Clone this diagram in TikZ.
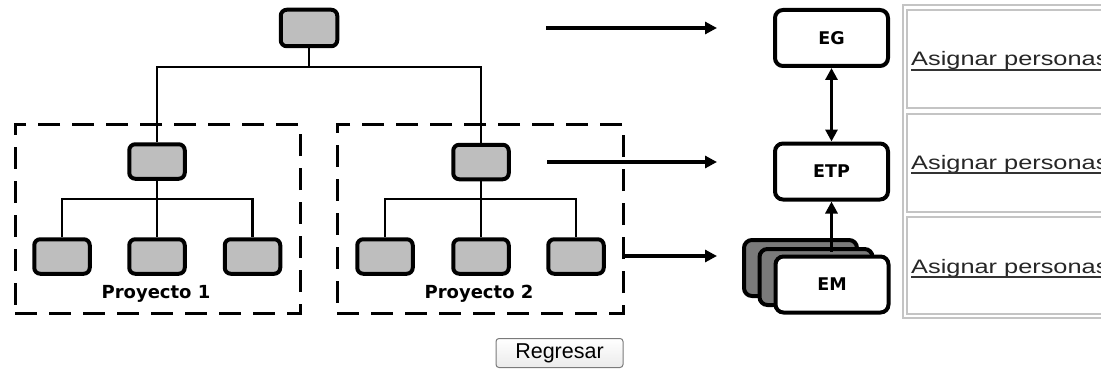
\documentclass[tikz,border=0pt]{standalone}
\usepackage{fontspec}
\newfontfamily\dvs{DejaVu Sans}
\newfontfamily\arialf{Liberation Sans}
\usetikzlibrary{arrows.meta}
\definecolor{boxgray}{HTML}{BEBEBE}
\definecolor{stackgray}{HTML}{7A7A7A}
\definecolor{tblgray}{HTML}{C4C4C4}
\definecolor{btnborder}{HTML}{7A7A7A}
\begin{document}
\begin{tikzpicture}[x=1pt,y=-1pt,
  orgbox/.style={draw, line width=4pt, rounded corners=6pt, fill=boxgray,
    minimum width=55.5pt, minimum height=34.5pt, inner sep=0pt},
  teambox/.style={draw, line width=4pt, rounded corners=8pt, fill=white,
    minimum width=113pt, minimum height=56pt, inner sep=0pt,
    font=\dvs\bfseries\fontsize{17.5}{18}\selectfont},
  stackbox/.style={teambox, fill=stackgray},
  dashbox/.style={draw, line width=3pt, dash pattern=on 22pt off 12pt,
    minimum width=285pt, minimum height=189pt, inner sep=0pt},
  projlabel/.style={anchor=base, inner sep=0pt,
    font=\dvs\bfseries\fontsize{18}{20}\selectfont},
  treeline/.style={line width=2.6pt},
  arr/.style={line width=3.5pt, -{Triangle[length=12pt,width=12pt]}},
  dblarr/.style={line width=3.5pt, {Triangle[length=12pt,width=12pt]}-{Triangle[length=12pt,width=12pt]}},
  tbl/.style={draw=tblgray, line width=1.5pt},
  linktext/.style={anchor=base west, inner sep=0pt, text=black!85,
    font=\arialf\fontsize{19.5}{21}\selectfont},
  uline/.style={draw=black!80, line width=1.3pt},
  btn/.style={draw=btnborder, line width=1pt, rounded corners=3pt,
    top color=white, bottom color=black!8, minimum width=127pt,
    minimum height=29pt, inner sep=0pt, text height=15.5pt, text depth=4.5pt,
    font=\arialf\fontsize{21.5}{24}\selectfont}
]
\useasboundingbox (0,0) rectangle (1101,369);
\clip (0,0) rectangle (1101,369);

% dashed project frames
\node[dashbox] (p1) at (157.5,218.5) {};
\node[dashbox, minimum width=286pt] (p2) at (480,218.5) {};

% org tree
\node[orgbox, minimum width=56.5pt, minimum height=36.5pt] (top) at (309,28) {};
\node[orgbox] (l2a) at (157,161.5) {};
\node[orgbox] (l2b) at (481,162) {};
\node[orgbox] (l3a) at (62,256.5) {};
\node[orgbox] (l3b) at (157,256.5) {};
\node[orgbox] (l3c) at (252.5,256.5) {};
\node[orgbox] (l3d) at (385,256.5) {};
\node[orgbox] (l3e) at (481,256.5) {};
\node[orgbox] (l3f) at (576,256.5) {};

\coordinate (j0) at (309,67);
\coordinate (j1) at (157,199);
\coordinate (j2) at (481,199);
\draw[treeline] (top.south) -- (top.south |- j0);
\draw[treeline] (l2a.north) |- (l2b.north |- j0) -- (l2b.north);
\draw[treeline] (l2a.south) -- (l3b.north);
\draw[treeline] (l3a.north) |- (l3c.north |- j1) -- (l3c.north);
\draw[treeline] (l2b.south) -- (l3e.north);
\draw[treeline] (l3d.north) |- (l3f.north |- j2) -- (l3f.north);

\node[projlabel] (t1) at (156,298.5) {Proyecto 1};
\node[projlabel] (t2) at (479,298.5) {Proyecto 2};

% horizontal arrows
\coordinate (a1s) at (546,28);   \coordinate (a1e) at (717,28);
\coordinate (a2s) at (547,162);  \coordinate (a2e) at (717,162);
\coordinate (a3e) at (717,256);
\draw[arr] (a1s) -- (a1e);
\draw[arr] (a2s) -- (a2e);
\draw[arr] (p2.east |- a3e) -- (a3e);

% team boxes
\node[teambox] (eg) at (831.5,38) {EG};
\node[teambox] (etp) at (831.5,171.5) {ETP};
\node[stackbox] (em3) at (800.5,268) {};
\node[stackbox] (em2) at (816,277) {};
\draw[dblarr] (eg.south) -- (etp.north);
\coordinate (emtop) at (831.5,252);
\draw[line width=3.5pt, {Triangle[length=12pt,width=12pt]}-] (etp.south) -- (emtop);
\node[teambox] (em) at (832,284.5) {EM};

% table
\draw[tbl] (903,5) rectangle (1110,318);
\draw[tbl] (907,10) rectangle (1110,108);
\draw[tbl] (907,114) rectangle (1110,212);
\draw[tbl] (907,217) rectangle (1110,314);
\node[linktext] (as1) at (911,66) {\scalebox{1.3}[1]{Asignar personas}};
\node[linktext] (as2) at (911,169) {\scalebox{1.3}[1]{Asignar personas}};
\node[linktext] (as3) at (911,273) {\scalebox{1.3}[1]{Asignar personas}};
\draw[uline] ([yshift=-4pt]as1.base west) -- ([yshift=-4pt]as1.base east);
\draw[uline] ([yshift=-4pt]as2.base west) -- ([yshift=-4pt]as2.base east);
\draw[uline] ([yshift=-4pt]as3.base west) -- ([yshift=-4pt]as3.base east);

% button
\node[btn] (reg) at (559.5,353) {Regresar};
\end{tikzpicture}
\end{document}
